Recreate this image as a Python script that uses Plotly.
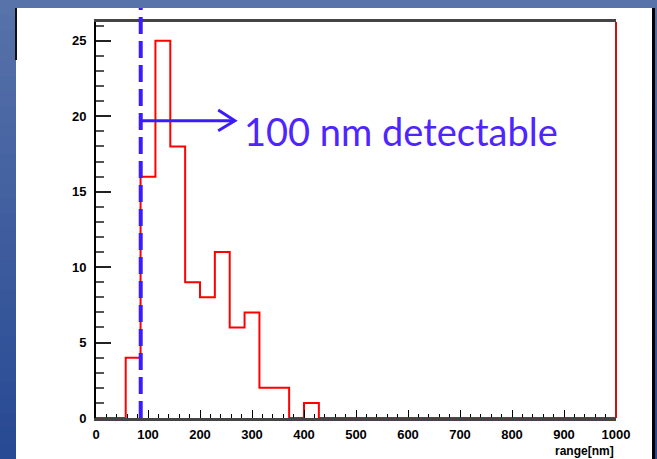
import numpy as np
import plotly.graph_objects as go

# ---- data ----
x_min, x_max, n_bins = 0, 1000, 35
counts = [0, 0, 4, 16, 25, 18, 9, 8, 11, 6, 7, 2, 2, 0, 1,
          0, 0, 0, 0, 0, 0, 0, 0, 0, 0, 0, 0, 0, 0, 0, 0, 0, 0, 0, 0]
threshold_x = 86          # position of blue dashed line
arrow_y = 19.7            # height of arrow
arrow_tip_x = 267
x_ticks = [0, 100, 200, 300, 400, 500, 600, 700, 800, 900, 1000]
y_ticks = [0, 5, 10, 15, 20, 25]
label_text = "100 nm detectable"
x_title = "range[nm]"

edges = np.linspace(x_min, x_max, n_bins + 1)
step_y = counts + [counts[-1]]

W, H = 657, 459
L, R, T, B = 96, 616, 22, 418  # plot area pixels


def px(p):
    return (p - L) / (R - L)


def py(p):
    return (B - p) / (B - T)


fig = go.Figure()
fig.add_trace(go.Scatter(
    x=list(edges), y=step_y, mode="lines", line=dict(color="#ff0000", width=2, shape="hv"),
    cliponaxis=False, showlegend=False, hoverinfo="skip"))

shapes = []
# gradient background strips
n_strip = 30
top_c = np.array([88, 114, 170])
bot_c = np.array([40, 74, 148])
for i in range(n_strip):
    f = i / (n_strip - 1)
    c = top_c * (1 - f) + bot_c * f
    y0p = i * H / n_strip
    y1p = (i + 1) * H / n_strip + 1
    shapes.append(dict(type="rect", xref="paper", yref="paper", x0=px(0), x1=px(W + 2),
                       y0=py(y1p), y1=py(y0p), fillcolor="rgb(%d,%d,%d)" % tuple(c.astype(int)),
                       line=dict(width=0), layer="below"))
# white panel
shapes.append(dict(type="rect", xref="paper", yref="paper", x0=px(16), x1=px(652),
                   y0=py(H + 5), y1=py(8), fillcolor="white", line=dict(width=0), layer="below"))
# black edges of panel
shapes.append(dict(type="line", xref="paper", yref="paper", x0=px(653.5), x1=px(653.5),
                   y0=py(H + 5), y1=py(8), line=dict(color="black", width=3), layer="below"))
shapes.append(dict(type="line", xref="paper", yref="paper", x0=px(16), x1=px(16),
                   y0=py(60), y1=py(8), line=dict(color="#111", width=2), layer="below"))
# frame right (red)
shapes.append(dict(type="line", xref="paper", yref="paper", x0=1, x1=1, y0=0, y1=1,
                   line=dict(color="#cc1111", width=2)))
# blue dashed vertical line
blue = "#3a1cff"
shapes.append(dict(type="line", xref="x", yref="paper", x0=threshold_x, x1=threshold_x,
                   y0=0, y1=py(8), line=dict(color=blue, width=4, dash="17px,7px")))
# arrow shaft and head
shapes.append(dict(type="line", xref="x", yref="y", x0=threshold_x, x1=arrow_tip_x,
                   y0=arrow_y, y1=arrow_y, line=dict(color=blue, width=3)))
shapes.append(dict(type="path", xref="x", yref="y",
                   path="M %f,%f L %f,%f L %f,%f" % (arrow_tip_x - 32, arrow_y + 0.72,
                                                     arrow_tip_x, arrow_y,
                                                     arrow_tip_x - 32, arrow_y - 0.66),
                   line=dict(color=blue, width=3)))

annotations = [
    dict(text=label_text, xref="paper", yref="paper", x=px(242), y=py(131),
         xanchor="left", yanchor="middle", showarrow=False,
         font=dict(family="Lato", size=38, color="#4f25ff")),
    dict(text=x_title, xref="paper", yref="paper", x=1, y=py(451),
         xanchor="right", yanchor="middle", showarrow=False,
         font=dict(family="Liberation Sans", size=12, color="black", weight="bold")),
]

fig.update_layout(
    width=W, height=H,
    margin=dict(l=L, r=W - R, t=T, b=H - B, pad=0),
    paper_bgcolor="rgb(70,98,158)", plot_bgcolor="white",
    shapes=shapes, annotations=annotations, showlegend=False,
)
fig.update_xaxes(range=[x_min, x_max], tickvals=x_ticks, ticktext=[str(v) for v in x_ticks],
                 ticks="inside", ticklen=8, tickwidth=1.3, tickcolor="black",
                 minor=dict(dtick=20, tick0=0, ticks="inside", ticklen=4, tickcolor="black", tickwidth=1),
                 showline=True, mirror=True, linecolor="#444", linewidth=2.5, showgrid=False, zeroline=False,
                 ticklabelstandoff=3,
                 tickfont=dict(family="Liberation Sans", size=13, color="black", weight="bold"))
fig.update_yaxes(range=[0, 26.25], tickvals=y_ticks, ticktext=[str(v) for v in y_ticks],
                 ticks="inside", ticklen=15, tickwidth=2, tickcolor="#222",
                 minor=dict(dtick=1, tick0=0, ticks="inside", ticklen=8, tickcolor="#555", tickwidth=1.5),
                 showline=True, linecolor="black", linewidth=2, showgrid=False, zeroline=False,
                 ticklabelstandoff=5,
                 tickfont=dict(family="Liberation Sans", size=13, color="black", weight="bold"))

fig.write_html("out.html", config={"displayModeBar": False},
               post_script="document.body.style.margin='0';document.body.style.overflow='hidden';")
